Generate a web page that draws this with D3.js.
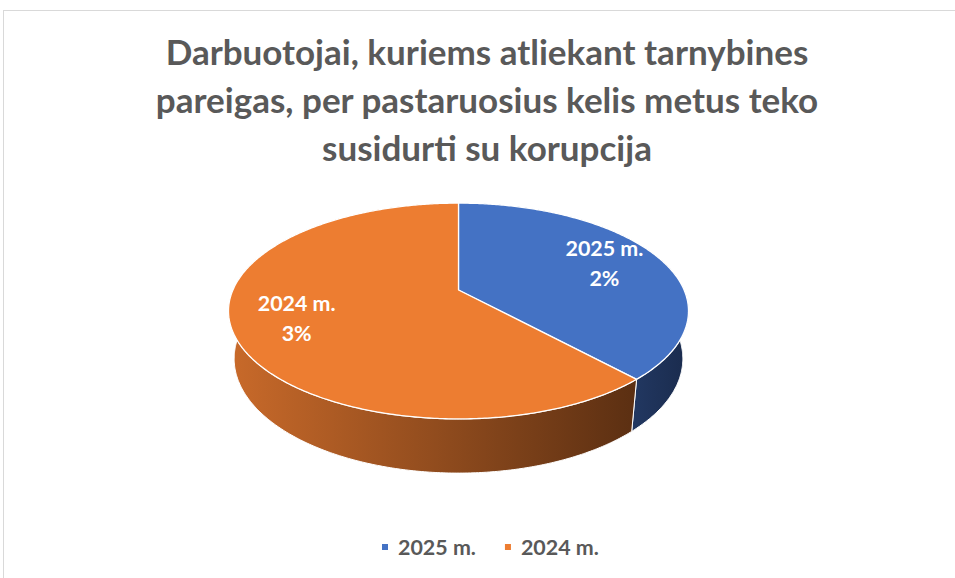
<!DOCTYPE html>
<html>
<head>
<meta charset="utf-8">
<script src="https://cdn.jsdelivr.net/npm/d3@7"></script>
<style>
  body { margin: 0; background: #fff; }
  svg text { font-family: Lato, "Open Sans", sans-serif; font-weight: bold; }
</style>
</head>
<body>
<svg id="chart" width="955" height="578"></svg>
<script>
// duomenys
var categories = ["2025 m.", "2024 m."];
var values = [2.1, 3.4];           // procentai, etiketėse suapvalinti
var colors = ["#4472C4", "#ED7D31"];
var titleLines = [
    "Darbuotojai, kuriems atliekant tarnybines",
    "pareigas, per pastaruosius kelis metus teko",
    "susidurti su korupcija"
];

var svg = d3.select("#chart");
var defs = svg.append("defs");

// rėmelis
svg.append("rect")
    .attr("x", 3.5).attr("y", 10.5)
    .attr("width", 970).attr("height", 600)
    .attr("fill", "#fff")
    .attr("stroke", "#d9d9d9");

// teksto pločio derinimas (Calibri nėra)
function fitText(sel, target) {
    var w = sel.node().getComputedTextLength();
    var fs = parseFloat(sel.attr("font-size"));
    sel.attr("font-size", fs * target / w);
}

// pavadinimas
var titleBase = [65, 113, 161];
var titleWidths = [643, 662, 311];
var title = svg.append("g");
titleLines.forEach(function(t, i) {
    var tx = title.append("text")
        .attr("x", 487).attr("y", titleBase[i])
        .attr("text-anchor", "middle")
        .attr("font-size", 32)
        .attr("fill", "#595959")
        .text(t);
    if (i === 0) fitText(tx, titleWidths[0]);
});
var fsTitle = title.select("text").attr("font-size");
title.selectAll("text").attr("font-size", fsTitle);

// 3D projekcija
var cx = 458.5, cy = 290, K = 225.6;
var tilt = 62.6 * Math.PI / 180, camD = 4.56, thick = 0.24;
var st = Math.sin(tilt), ct = Math.cos(tilt);

function project(theta, r, w) {
    var u = r * Math.sin(theta), v = r * Math.cos(theta);
    var Y = v * ct + w * st;
    var Z = v * st - w * ct;
    var f = camD / (camD + Z);
    return [cx + K * u * f, cy - K * Y * f];
}

function rim(a0, a1, w) {
    var n = Math.max(2, Math.ceil((a1 - a0) / 0.01));
    return d3.range(n + 1).map(function(i) {
        return project(a0 + (a1 - a0) * i / n, 1, w);
    });
}

var pie = d3.pie().sort(null).value(function(d) { return d; });
var arcs = pie(values);
var line = d3.line();

var wallStops = [["#C96A2A", "#5B2F12"], ["#223862", "#1A2B4D"]];
var wallIdx = [1, 0];

// šoninės sienelės
var walls = svg.append("g");
arcs.forEach(function(a, i) {
    var top = rim(a.startAngle, a.endAngle, 0);
    var bot = rim(a.startAngle, a.endAngle, -thick).reverse();
    var pts = top.concat(bot);
    var front = pts.filter(function(p) { return p[1] > cy; });
    var xs = d3.extent(front, function(p) { return p[0]; });
    var stops = i === 0 ? wallStops[1] : wallStops[0];
    var g = defs.append("linearGradient")
        .attr("id", "wall" + i)
        .attr("gradientUnits", "userSpaceOnUse")
        .attr("x1", xs[0]).attr("x2", xs[1])
        .attr("y1", 0).attr("y2", 0);
    g.append("stop").attr("offset", 0).attr("stop-color", stops[0]);
    g.append("stop").attr("offset", 1).attr("stop-color", stops[1]);
    walls.append("path")
        .attr("d", line(pts) + "Z")
        .attr("fill", "url(#wall" + i + ")")
        .attr("stroke", "#fff")
        .attr("stroke-width", 1)
        .attr("stroke-linejoin", "round");
});

// viršus
var topG = svg.append("g");
arcs.forEach(function(a, i) {
    var pts = [project(0, 0, 0)].concat(rim(a.startAngle, a.endAngle, 0));
    topG.append("path")
        .attr("d", line(pts) + "Z")
        .attr("fill", colors[i])
        .attr("stroke", "#fff")
        .attr("stroke-width", 1.3)
        .attr("stroke-linejoin", "round");
});

// etiketės
var labelR = 0.73;
var labels = svg.append("g");
var lblSize = 22;
arcs.forEach(function(a, i) {
    var mid = (a.startAngle + a.endAngle) / 2;
    var p = project(mid, labelR, 0);
    var t = labels.append("text")
        .attr("x", p[0]).attr("y", p[1] - 7.5)
        .attr("text-anchor", "middle")
        .attr("font-size", lblSize)
        .attr("fill", "#fff")
        .text(categories[i]);
    if (i === 0) { fitText(t, 78); lblSize = +t.attr("font-size"); t.attr("font-size", lblSize); }
    else t.attr("font-size", lblSize);
    labels.append("text")
        .attr("x", p[0]).attr("y", p[1] + 22.5)
        .attr("text-anchor", "middle")
        .attr("font-size", lblSize)
        .attr("fill", "#fff")
        .text(d3.format(".0f")(a.data) + "%");
});

// legenda
var legend = svg.append("g");
var lx = 382;
categories.forEach(function(c, i) {
    legend.append("rect")
        .attr("x", lx).attr("y", 544)
        .attr("width", 6).attr("height", 6)
        .attr("fill", colors[i]);
    var t = legend.append("text")
        .attr("x", lx + 16).attr("y", 555)
        .attr("font-size", lblSize)
        .attr("fill", "#595959")
        .text(c);
    lx += 16 + t.node().getComputedTextLength() + 29;
});
</script>
</body>
</html>
